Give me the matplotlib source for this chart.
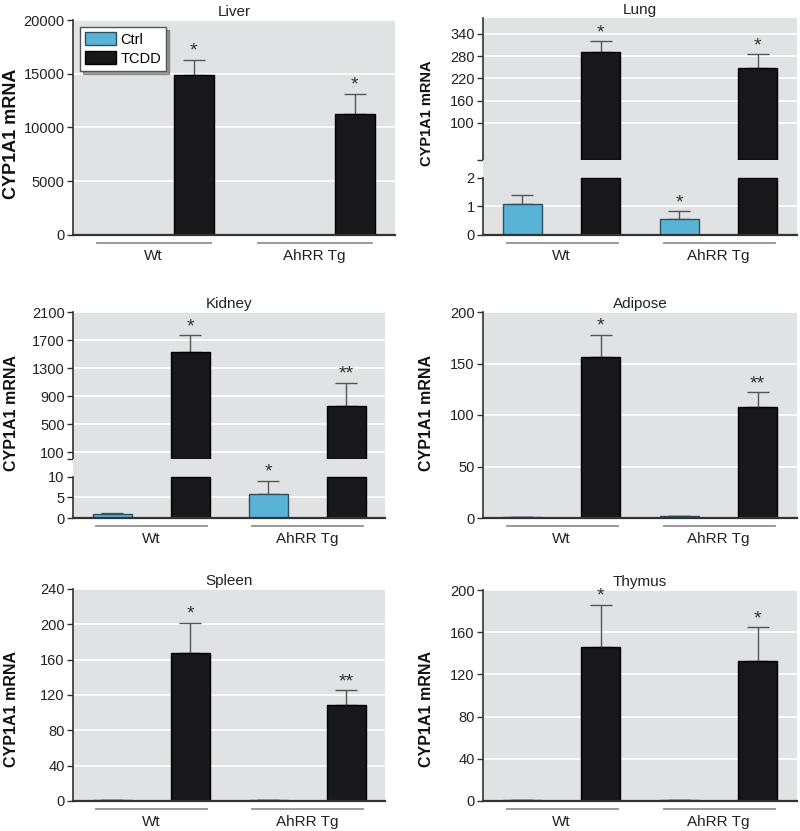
import numpy as np
import matplotlib
matplotlib.use("Agg")
import matplotlib.pyplot as plt
import matplotlib.transforms as mtransforms
from matplotlib.patches import Patch

plt.rcParams['font.family'] = ['Liberation Sans', 'DejaVu Sans']

# data (means and upper error)
groups = ['Wt', 'AhRR Tg']

liver_ctrl = [1.0, 0.9]
liver_ctrl_err = [0.0, 0.0]
liver_tcdd = [14900, 11300]
liver_tcdd_err = [1400, 1850]

lung_ctrl = [1.1, 0.55]
lung_ctrl_err = [0.3, 0.29]
lung_tcdd = [291, 249]
lung_tcdd_err = [30, 36]

kidney_ctrl = [1.0, 5.9]
kidney_ctrl_err = [0.15, 3.1]
kidney_tcdd = [1524, 761]
kidney_tcdd_err = [243, 329]

adipose_ctrl = [1.2, 1.6]
adipose_ctrl_err = [0.0, 0.0]
adipose_tcdd = [156, 108]
adipose_tcdd_err = [22, 14]

spleen_ctrl = [1.0, 0.8]
spleen_ctrl_err = [0.0, 0.0]
spleen_tcdd = [168, 108.5]
spleen_tcdd_err = [34, 17]

thymus_ctrl = [1.0, 0.8]
thymus_ctrl_err = [0.0, 0.0]
thymus_tcdd = [146, 132.5]
thymus_tcdd_err = [40, 32]

# significance marks (ctrl, tcdd)
liver_sig = (['', ''], ['*', '*'])
lung_sig = (['', '*'], ['*', '*'])
kidney_sig = (['', '*'], ['*', '**'])
adipose_sig = (['', ''], ['*', '**'])
spleen_sig = (['', ''], ['*', '**'])
thymus_sig = (['', ''], ['*', '*'])

CTRL_FC = '#58b3d6'
CTRL_EC = '#2d4f5e'
TCDD_FC = '#18181a'
BG = '#e1e2e4'
SPINE = '#333333'
ERR = '#555555'

W, H = 800, 831
fig = plt.figure(figsize=(W / 100, H / 100), dpi=100)

ctrl_x = np.array([0, 2])
tcdd_x = np.array([1, 3])
BAR_W = 0.5


def add_ax(l, t, r, b):
    ax = fig.add_axes([l / W, 1 - b / H, (r - l) / W, (b - t) / H])
    ax.set_facecolor(BG)
    ax.set_xlim(-0.5, 3.5)
    for s in ['top', 'right']:
        ax.spines[s].set_visible(False)
    ax.spines['left'].set_color(SPINE)
    ax.spines['left'].set_linewidth(1.2)
    ax.spines['bottom'].set_color(SPINE)
    ax.spines['bottom'].set_linewidth(1.6)
    ax.tick_params(axis='y', length=4, width=1, color=SPINE, labelsize=10.5, pad=2,
                   labelcolor='#222222')
    return ax


def grid(ax, vals):
    for v in vals:
        ax.axhline(v, color='white', lw=1.2, zorder=0.5)


def bars(ax, x, vals, errs, sig, fc, ec):
    ax.bar(x, vals, BAR_W, color=fc, edgecolor=ec, linewidth=1, zorder=2)
    up = [v + e for v, e in zip(vals, errs)]
    ax.errorbar(x, vals, yerr=[np.zeros(len(vals)), errs], fmt='none',
                ecolor=ERR, elinewidth=1, capsize=8, capthick=1, zorder=1.5)
    for xi, u, s in zip(x, up, sig):
        if s:
            ax.annotate(s, (xi, u), xytext=(0, 0), textcoords='offset points',
                        ha='center', va='bottom', fontsize=14, color='#333333')


def bottom_groups(ax):
    ax.set_xticks([0.5, 2.5])
    ax.set_xticklabels(groups, fontsize=11, color='#222222')
    ax.tick_params(axis='x', length=0, pad=10)
    tr = mtransforms.blended_transform_factory(ax.transData, ax.transAxes)
    tr = mtransforms.offset_copy(tr, fig=fig, y=-8, units='dots')
    for a, b in [(-0.2, 1.22), (1.8, 3.22)]:
        ax.plot([a, b], [0, 0], color='#9a9a9a', lw=1.4, transform=tr, clip_on=False)


def ylabel(x, y, size):
    fig.text(x / W, 1 - y / H, 'CYP1A1 mRNA', rotation=90, ha='center', va='center',
             fontsize=size, fontweight='bold', color='#111111')


def simple_panel(box, title, ctrl, ctrl_err, tcdd, tcdd_err, sig, ymax, ticks, lab):
    ax = add_ax(*box)
    ax.set_ylim(0, ymax)
    ax.set_yticks(ticks)
    grid(ax, ticks[1:])
    bars(ax, ctrl_x, ctrl, ctrl_err, sig[0], CTRL_FC, CTRL_EC)
    bars(ax, tcdd_x, tcdd, tcdd_err, sig[1], TCDD_FC, 'black')
    ax.set_title(title, fontsize=11, pad=3, color='#222222')
    bottom_groups(ax)
    ylabel(*lab)
    return ax


def broken_panel(box, brk, title, ctrl, ctrl_err, tcdd, tcdd_err, sig,
                 low_top, low_max, low_ticks, up_max, up_ticks, lab):
    l, t, r, b = box
    up = add_ax(l, t, r, brk)
    lo = add_ax(l, brk, r, b)
    up.spines['bottom'].set_visible(False)
    up.set_ylim(0, up_max)
    up.set_yticks([0] + up_ticks)
    up.set_yticklabels([''] + [str(v) for v in up_ticks])
    grid(up, up_ticks)
    up.set_xticks([])
    bars(up, tcdd_x, tcdd, tcdd_err, sig[1], TCDD_FC, 'black')
    up.set_title(title, fontsize=11, pad=3, color='#222222')

    lo.set_ylim(0, low_max)
    lo.set_yticks(low_ticks)
    lo.spines['left'].set_bounds(0, low_top)
    grid(lo, low_ticks[1:-1])
    bars(lo, ctrl_x, ctrl, ctrl_err, sig[0], CTRL_FC, CTRL_EC)
    lo.bar(tcdd_x, np.minimum(tcdd, low_top), BAR_W, color=TCDD_FC,
           edgecolor='black', linewidth=1, zorder=2)
    bottom_groups(lo)
    ylabel(*lab)


# Liver
ax = simple_panel((73, 20, 395, 235), 'Liver', liver_ctrl, liver_ctrl_err,
                  liver_tcdd, liver_tcdd_err, liver_sig, 20000,
                  [0, 5000, 10000, 15000, 20000], (12, 134, 13))
ax.legend(handles=[Patch(facecolor=CTRL_FC, edgecolor=CTRL_EC, label='Ctrl'),
                   Patch(facecolor=TCDD_FC, edgecolor='black', label='TCDD')],
          loc='upper left', fontsize=10.5, fancybox=False, shadow=True,
          edgecolor='#555555', framealpha=1, handlelength=2.1, handleheight=1.0,
          handletextpad=0.3, borderaxespad=0.5, borderpad=0.35, labelspacing=0.3)

# Lung (broken axis)
broken_panel((483, 18, 797, 235), 160, 'Lung', lung_ctrl, lung_ctrl_err,
             lung_tcdd, lung_tcdd_err, lung_sig,
             2, 2.63, [0, 1, 2], 383, [100, 160, 220, 280, 340], (427, 113, 10.5))

# Kidney (broken axis)
broken_panel((73, 312, 385, 518), 459, 'Kidney', kidney_ctrl, kidney_ctrl_err,
             kidney_tcdd, kidney_tcdd_err, kidney_sig,
             10, 14.3, [0, 5, 10], 2100, [100, 500, 900, 1300, 1700, 2100], (12, 413, 11.5))

# Adipose
simple_panel((483, 312, 797, 518), 'Adipose', adipose_ctrl, adipose_ctrl_err,
             adipose_tcdd, adipose_tcdd_err, adipose_sig, 200,
             [0, 50, 100, 150, 200], (427, 413, 11.5))

# Spleen
simple_panel((73, 589, 385, 801), 'Spleen', spleen_ctrl, spleen_ctrl_err,
             spleen_tcdd, spleen_tcdd_err, spleen_sig, 240,
             [0, 40, 80, 120, 160, 200, 240], (12, 709, 11.5))

# Thymus
simple_panel((483, 590, 797, 801), 'Thymus', thymus_ctrl, thymus_ctrl_err,
             thymus_tcdd, thymus_tcdd_err, thymus_sig, 200,
             [0, 40, 80, 120, 160, 200], (427, 709, 11.5))

fig.savefig('out.png', dpi=100)
